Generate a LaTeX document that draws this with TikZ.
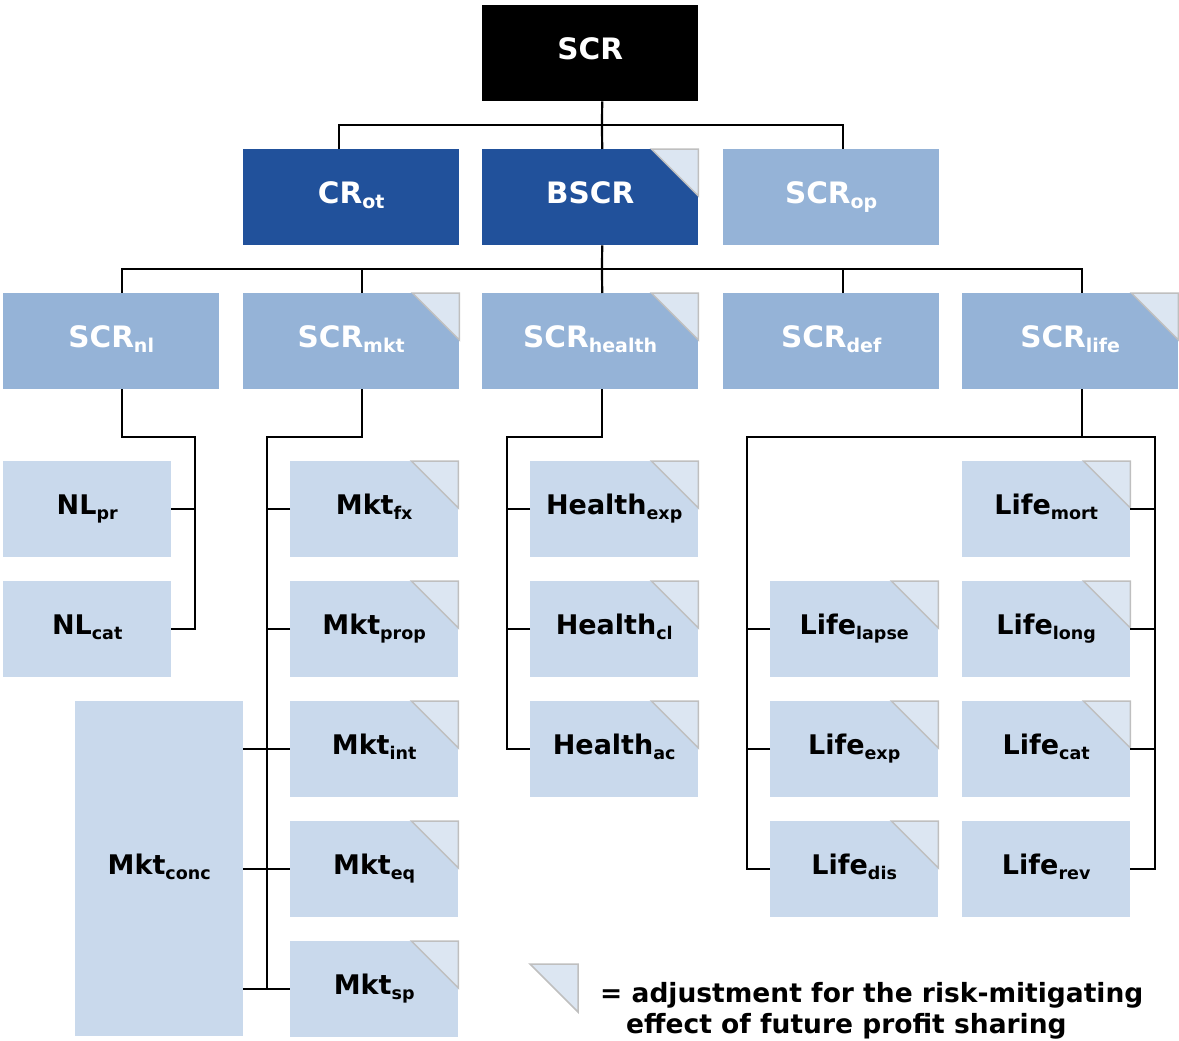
\documentclass[tikz,border=0pt]{standalone}
\usepackage{fontspec}
\setmainfont{DejaVu Sans}
\definecolor{cdark}{RGB}{33,81,155}
\definecolor{cmid}{RGB}{149,179,215}
\definecolor{clight}{RGB}{201,217,236}
\definecolor{ctri}{RGB}{220,230,242}
\definecolor{ctriedge}{RGB}{191,191,191}
\newcommand\sbs[1]{\raisebox{-5pt}{\fontsize{17.5}{18}\selectfont #1}}
\newcommand\sbb[1]{\raisebox{-5pt}{\fontsize{19}{20}\selectfont #1}}
\newcommand\crn[1]{\filldraw[tri] ([xshift=-47pt]#1.north east) -- (#1.north east) -- ([yshift=-47pt]#1.north east) -- cycle;}
\tikzset{
  box/.style={anchor=north west, inner sep=0pt, text height=20pt, text depth=9pt,
    font=\bfseries\fontsize{27}{30}\selectfont},
  big/.style={box, minimum width=216pt, minimum height=96pt, text=white,
    font=\bfseries\fontsize{29.5}{32}\selectfont, text height=21pt},
  small/.style={box, minimum width=168pt, minimum height=96pt, fill=clight, text=black},
  tri/.style={fill=ctri, draw=ctriedge, line width=1.5pt, line join=miter},
  conn/.style={draw=black, line width=2.2pt},
  legend/.style={anchor=base west, inner sep=0pt, font=\bfseries\fontsize{26.5}{31}\selectfont},
}
\begin{document}
\begin{tikzpicture}[x=1pt,y=-1pt]
\useasboundingbox (0,0) rectangle (1179,1041);
% level 0/1
\node[big, fill=black] (scr) at (482,5) {SCR};
\node[big, fill=cdark] (crot) at (243,149) {CR\sbb{ot}};
\node[big, fill=cdark] (bscr) at (482,149) {BSCR};
\node[big, fill=cmid] (scrop) at (723,149) {SCR\sbb{op}};
% level 2
\node[big, fill=cmid] (nl) at (3,293) {SCR\sbb{nl}};
\node[big, fill=cmid] (mkt) at (243,293) {SCR\sbb{mkt}};
\node[big, fill=cmid] (health) at (482,293) {SCR\sbb{health}};
\node[big, fill=cmid] (def) at (723,293) {SCR\sbb{def}};
\node[big, fill=cmid] (life) at (962,293) {SCR\sbb{life}};
% leaves
\node[small] (nlpr) at (3,461) {NL\sbs{pr}};
\node[small] (nlcat) at (3,581) {NL\sbs{cat}};
\node[small, minimum height=335pt] (mktconc) at (75,701) {Mkt\sbs{conc}};
\node[small] (mktfx) at (290,461) {Mkt\sbs{fx}};
\node[small] (mktprop) at (290,581) {Mkt\sbs{prop}};
\node[small] (mktint) at (290,701) {Mkt\sbs{int}};
\node[small] (mkteq) at (290,821) {Mkt\sbs{eq}};
\node[small] (mktsp) at (290,941) {Mkt\sbs{sp}};
\node[small] (hexp) at (530,461) {Health\sbs{exp}};
\node[small] (hcl) at (530,581) {Health\sbs{cl}};
\node[small] (hac) at (530,701) {Health\sbs{ac}};
\node[small] (llapse) at (770,581) {Life\sbs{lapse}};
\node[small] (lexp) at (770,701) {Life\sbs{exp}};
\node[small] (ldis) at (770,821) {Life\sbs{dis}};
\node[small] (lmort) at (962,461) {Life\sbs{mort}};
\node[small] (llong) at (962,581) {Life\sbs{long}};
\node[small] (lcat) at (962,701) {Life\sbs{cat}};
\node[small] (lrev) at (962,821) {Life\sbs{rev}};
% corner triangles
\crn{bscr}\crn{mkt}\crn{health}\crn{life}
\crn{mktfx}\crn{mktprop}\crn{mktint}\crn{mkteq}\crn{mktsp}
\crn{hexp}\crn{hcl}\crn{hac}
\crn{llapse}\crn{lexp}\crn{ldis}
\crn{lmort}\crn{llong}\crn{lcat}
% connectors
\coordinate (b1) at (602,125);
\coordinate (b2) at (602,269);
\draw[conn] ([xshift=12pt]scr.south) -- (b1) -- ([xshift=12pt]bscr.north);
\draw[conn] ([xshift=-12pt]crot.north) |- (b1) -| ([xshift=12pt]scrop.north);
\draw[conn] ([xshift=12pt]bscr.south) -- (b2) -- ([xshift=12pt]health.north);
\draw[conn] ([xshift=11pt]nl.north) |- (b2) -| ([xshift=12pt]life.north);
\draw[conn] ([xshift=11pt]mkt.north) -- ([xshift=11pt]mkt.north |- b2);
\draw[conn] ([xshift=12pt]def.north) -- ([xshift=12pt]def.north |- b2);
% NL
\coordinate (nlt) at (195,437);
\draw[conn] ([xshift=11pt]nl.south) |- (nlt) |- (nlcat.east);
\draw[conn] (nlpr.east) -- (nlpr.east -| nlt);
% Mkt
\coordinate (mt) at (267,437);
\draw[conn] ([xshift=11pt]mkt.south) |- (mt) |- (mktsp.west);
\draw[conn] (mktfx.west) -- (mktfx.west -| mt);
\draw[conn] (mktprop.west) -- (mktprop.west -| mt);
\draw[conn] (mktconc.east |- mktint.west) -- (mktint.west);
\draw[conn] (mktconc.east |- mkteq.west) -- (mkteq.west);
\draw[conn] (mktconc.east |- mktsp.west) -- (mktsp.west);
% Health
\coordinate (ht) at (507,437);
\draw[conn] ([xshift=12pt]health.south) |- (ht) |- (hac.west);
\draw[conn] (hexp.west) -- (hexp.west -| ht);
\draw[conn] (hcl.west) -- (hcl.west -| ht);
% Life
\coordinate (ll) at (747,437);
\coordinate (lr) at (1155,437);
\draw[conn] ([xshift=12pt]life.south) -- ([xshift=12pt]life.south |- ll);
\draw[conn] (ldis.west) -| (ll) -- (lr) |- (lrev.east);
\draw[conn] (llapse.west) -- (llapse.west -| ll);
\draw[conn] (lexp.west) -- (lexp.west -| ll);
\draw[conn] (lmort.east) -- (lmort.east -| lr);
\draw[conn] (llong.east) -- (llong.east -| lr);
\draw[conn] (lcat.east) -- (lcat.east -| lr);
% legend
\coordinate (lg) at (578,964);
\filldraw[tri] ([xshift=-48pt]lg) -- (lg) -- ([yshift=-48pt]lg) -- cycle;
\node[legend] (leg1) at (600,1002) {= adjustment for the risk-mitigating};
\node[legend] (leg2) at (626,1033) {effect of future profit sharing};
\end{tikzpicture}
\end{document}
